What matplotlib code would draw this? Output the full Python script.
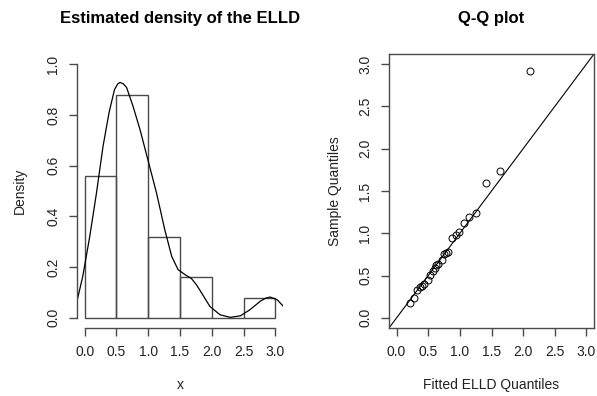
import matplotlib
matplotlib.use("Agg")
import matplotlib.pyplot as plt
from matplotlib import font_manager

# font: R on Windows renders a narrow-ish Arial
names = {f.name for f in font_manager.fontManager.ttflist}
fam = 'Liberation Sans Narrow' if 'Liberation Sans Narrow' in names else 'Liberation Sans'
plt.rcParams['font.family'] = [fam, 'DejaVu Sans']

# histogram of the sample (density scale)
breaks = [0.0, 0.5, 1.0, 1.5, 2.0, 2.5, 3.0]
dens_heights = [0.56, 0.88, 0.32, 0.16, 0.0, 0.08]

# estimated density curve
curve_x = [-0.12, -0.03, 0.08, 0.185, 0.29, 0.385, 0.47, 0.52, 0.56, 0.61, 0.66, 0.76,
           0.87, 1.0, 1.13, 1.26, 1.37, 1.47, 1.58, 1.68, 1.76, 1.84, 1.97, 2.13,
           2.29, 2.45, 2.6, 2.76, 2.85, 2.92, 3.03, 3.12]
curve_y = [0.066, 0.163, 0.32, 0.49, 0.677, 0.81, 0.90, 0.922, 0.928, 0.922, 0.908, 0.835,
           0.743, 0.618, 0.493, 0.348, 0.242, 0.19, 0.17, 0.155, 0.13, 0.098, 0.045, 0.012,
           0.002, 0.008, 0.032, 0.065, 0.078, 0.082, 0.071, 0.047]

# Q-Q plot
fitted_q = [0.21, 0.28, 0.33, 0.37, 0.40, 0.43, 0.49, 0.53, 0.57, 0.60, 0.63, 0.66, 0.71,
            0.75, 0.78, 0.82, 0.87, 0.94, 0.98, 1.06, 1.15, 1.26, 1.41, 1.63, 2.11]
sample_q = [0.17, 0.24, 0.33, 0.36, 0.38, 0.40, 0.45, 0.51, 0.55, 0.59, 0.62, 0.64, 0.69,
            0.75, 0.77, 0.78, 0.95, 0.98, 1.02, 1.12, 1.19, 1.24, 1.60, 1.74, 2.92]

ticks_x = [0.0, 0.5, 1.0, 1.5, 2.0, 2.5, 3.0]
ticks_dens = [0.0, 0.2, 0.4, 0.6, 0.8, 1.0]

edge = '#4a4a4a'
txt = '#222222'
fs = 10

fig = plt.figure(figsize=(5.97, 3.96), dpi=100)
ax1 = fig.add_axes([77 / 597, 68 / 396, 206 / 597, 274 / 396])
ax2 = fig.add_axes([389 / 597, 68 / 396, 205 / 597, 274 / 396])

# ---- left: histogram + density
widths = [breaks[i + 1] - breaks[i] for i in range(len(dens_heights))]
ax1.bar(breaks[:-1], dens_heights, width=widths, align='edge', fill=False,
        edgecolor=edge, linewidth=1.0)
ax1.plot(curve_x, curve_y, color='black', linewidth=0.9)
ax1.set_xlim(-0.12, 3.12)
ax1.set_ylim(-0.04, 1.04)
for s in ['top', 'right']:
    ax1.spines[s].set_visible(False)
ax1.spines['bottom'].set_bounds(0, 3)
ax1.spines['left'].set_bounds(0, 1)
ax1.set_xticks(ticks_x)
ax1.set_yticks(ticks_dens)
ax1.set_xticklabels([f'{t:.1f}' for t in ticks_x])
ax1.set_yticklabels([f'{t:.1f}' for t in ticks_dens], rotation=90, va='center')
ax1.set_title('Estimated density of the ELLD', fontsize=12, fontweight='bold',
              color='black', pad=22)
ax1.set_xlabel('x', fontsize=fs, color=txt, labelpad=14)
ax1.set_ylabel('Density', fontsize=fs, color=txt, labelpad=14)

# ---- right: Q-Q plot
ax2.plot(fitted_q, sample_q, linestyle='none', marker='o', markersize=5,
         markerfacecolor='none', markeredgecolor='black', markeredgewidth=0.7)
ax2.axline((0, 0), slope=1, color='black', linewidth=0.8)
ax2.set_xlim(-0.12, 3.12)
ax2.set_ylim(-0.12, 3.12)
ax2.set_xticks(ticks_x)
ax2.set_yticks(ticks_x)
ax2.set_xticklabels([f'{t:.1f}' for t in ticks_x])
ax2.set_yticklabels([f'{t:.1f}' for t in ticks_x], rotation=90, va='center')
ax2.set_title('Q-Q plot', fontsize=12, fontweight='bold', color='black', pad=22)
ax2.set_xlabel('Fitted ELLD Quantiles', fontsize=fs, color=txt, labelpad=14)
ax2.set_ylabel('Sample Quantiles', fontsize=fs, color=txt, labelpad=12)

for ax in (ax1, ax2):
    for s in ax.spines.values():
        s.set_color(edge)
        s.set_linewidth(1.0)
    ax.tick_params(length=6, width=1.0, color=edge, labelsize=fs, labelcolor=txt, pad=6)

fig.savefig('out.png', dpi=100, facecolor='white')
